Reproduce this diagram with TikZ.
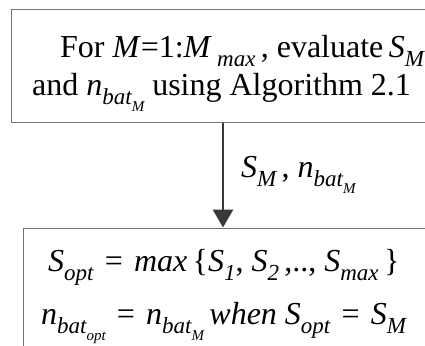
\documentclass[tikz,border=0pt]{standalone}
\usepackage{fontspec}
\setmainfont{Liberation Serif}
\usetikzlibrary{arrows.meta}
\newcommand\mainsz{\fontsize{32}{36}\selectfont}
\newcommand\sbs[1]{\raisebox{-0.3em}{\fontsize{23}{23}\selectfont\itshape #1}}
\newcommand\sbss[2]{\raisebox{-0.3em}{\fontsize{23}{23}\selectfont\itshape #1\raisebox{-0.3em}{\fontsize{15}{15}\selectfont #2}}}
\newcommand\nbat[1]{\textit{n}\sbss{bat}{#1}}
\newcommand\eqs{\hspace{0.35em}=\hspace{0.35em}}
\begin{document}
\begin{tikzpicture}[x=1pt,y=-1pt,
  boxline/.style={draw=black!55,line width=1.3pt},
  txt/.style={anchor=base west,inner sep=0pt,font=\mainsz},
  flow/.style={draw=black!78,line width=2.7pt,-{Triangle[width=20pt,length=18pt]}}]
\useasboundingbox (0,0) rectangle (425,345);
\clip (0,0) rectangle (425,345);
\node[boxline,anchor=north west,minimum width=440pt,minimum height=113pt,inner sep=0pt] (top) at (11,9) {};
\node[boxline,anchor=north west,minimum width=440pt,minimum height=140pt,inner sep=0pt] (bot) at (22.7,227.5) {};
\node[txt] (l1) at (60,57) {For \textit{M}=1:\textit{M}\,\sbs{max}\,, evaluate\,\textit{S}\sbs{M}};
\node[txt] (l2) at (32,95) {and \nbat{M} using Algorithm 2.1};
\draw[flow] (top.south -| 223,0) -- (bot.north -| 223,0);
\node[txt] (lab) at (241,177) {\textit{S}\sbs{M}\,, \nbat{M}};
\node[txt] (b1) at (48,271) {\textit{S}\sbs{opt}\eqs\textit{max}\,\{\textit{S}\sbs{1}, \textit{S}\sbs{2}\,,.., \textit{S}\sbs{max}\,\}};
\node[txt] (b2) at (41,324) {\textit{n}\sbss{bat}{opt}\eqs\nbat{M}\,\textit{when S}\sbs{opt}\eqs\textit{S}\sbs{M}};
\end{tikzpicture}
\end{document}
